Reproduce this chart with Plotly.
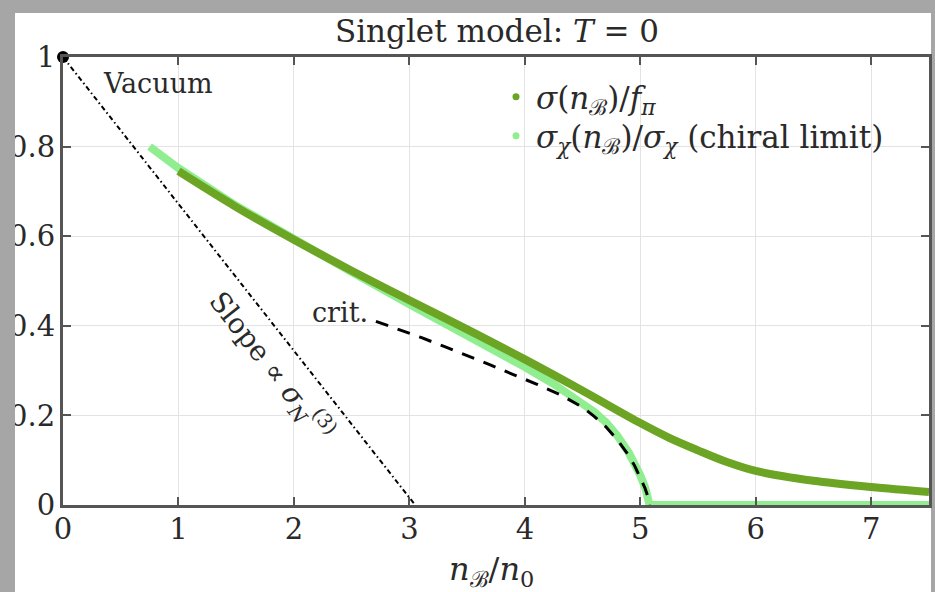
import plotly.graph_objects as go

# Condensate profiles versus baryon density n_B/n_0 (singlet model, T = 0)
density_sigma = [1.0, 1.5, 2.0, 2.5, 3.0, 3.5, 4.0, 4.5, 5.0, 5.25, 5.5, 5.75, 6.0, 6.5, 7.0, 7.5]
sigma_over_fpi = [0.745, 0.665, 0.592, 0.523, 0.457, 0.392, 0.325, 0.255, 0.183, 0.150, 0.122, 0.096, 0.076, 0.054, 0.040, 0.029]

density_chiral = [0.75, 1.0, 1.5, 2.0, 2.5, 3.0, 3.5, 3.75, 4.0, 4.25, 4.5, 4.6, 4.7, 4.8, 4.9,
                  4.95, 5.0, 5.04, 5.07, 5.08, 5.5, 6.0, 6.5, 7.0, 7.5]
sigma_chiral = [0.800, 0.752, 0.668, 0.592, 0.520, 0.448, 0.380, 0.345, 0.308, 0.270, 0.228, 0.208,
                0.185, 0.155, 0.117, 0.093, 0.066, 0.040, 0.016, 0.0, 0.0, 0.0, 0.0, 0.0, 0.0]

density_crit = [2.71, 2.9, 3.1, 3.3, 3.5, 3.7, 3.9, 4.1, 4.3, 4.5, 4.6, 4.7, 4.8, 4.9,
                4.95, 5.0, 5.04, 5.07, 5.08]
sigma_crit = [0.410, 0.393, 0.374, 0.354, 0.334, 0.313, 0.291, 0.270, 0.247, 0.218, 0.198, 0.175,
              0.146, 0.110, 0.088, 0.062, 0.038, 0.015, 0.0]

density_slope = [0.0, 3.05]
sigma_slope = [1.0, 0.0]

vacuum_x = [0.0]
vacuum_y = [1.0]

x_ticks = [0, 1, 2, 3, 4, 5, 6, 7]
y_ticks = [0, 0.2, 0.4, 0.6, 0.8, 1.0]
y_tick_text = ["0", "0.2", "0.4", "0.6", "0.8", "1"]

FONT = "DejaVu Serif"
TEXT = "#2a2a2a"
DARK_GREEN = "#6ca424"
LIGHT_GREEN = "#90ee90"
W, H = 935, 592
L, R, T, B = 63, 6, 57, 87
PW, PH = W - L - R, H - T - B


def px_to_paper_x(px):
    return (px - L) / PW


def px_to_paper_y(py):
    return (H - B - py) / PH


fig = go.Figure()

fig.add_trace(go.Scatter(
    x=density_slope, y=sigma_slope, mode="lines",
    line=dict(color="black", width=2, dash="5px,3px,1.5px,3px"),
    showlegend=False, hoverinfo="skip"))

fig.add_trace(go.Scatter(
    x=density_chiral, y=sigma_chiral, mode="lines",
    line=dict(color=LIGHT_GREEN, width=8),
    showlegend=False, cliponaxis=False))

fig.add_trace(go.Scatter(
    x=density_sigma, y=sigma_over_fpi, mode="lines", line_shape="spline",
    line=dict(color=DARK_GREEN, width=8),
    showlegend=False, cliponaxis=False))

fig.add_trace(go.Scatter(
    x=density_crit, y=sigma_crit, mode="lines",
    line=dict(color="black", width=3, dash="13px,10px"),
    showlegend=False))

fig.add_trace(go.Scatter(
    x=vacuum_x, y=vacuum_y, mode="markers",
    marker=dict(color="black", size=12),
    showlegend=False, cliponaxis=False))

# legend entries drawn as small dots, one legend box per entry
fig.add_trace(go.Scatter(
    x=[None], y=[None], mode="markers", marker=dict(color=DARK_GREEN, size=7),
    name="<i>σ</i>(<i>n</i><sub>ℬ</sub>)/<i>f</i><sub><i>π</i></sub>", legend="legend"))
fig.add_trace(go.Scatter(
    x=[None], y=[None], mode="markers", marker=dict(color=LIGHT_GREEN, size=7),
    name="<i>σ</i><sub><i>χ</i></sub>(<i>n</i><sub>ℬ</sub>)/<i>σ</i><sub><i>χ</i></sub> (chiral limit)",
    legend="legend2"))

axis_common = dict(
    showline=True, linecolor="#555555", linewidth=3, mirror="allticks",
    ticks="inside", ticklen=8, tickwidth=1.5, tickcolor="#555555",
    showgrid=True, gridcolor="#e3e3e3", gridwidth=1, zeroline=False,
    tickfont=dict(family=FONT, size=29, color=TEXT),
)

fig.update_xaxes(range=[0, 7.5], tickvals=x_ticks, ticklabelstandoff=-4, **axis_common)
fig.update_yaxes(range=[0, 1], tickvals=y_ticks, ticktext=y_tick_text, ticklabelstandoff=-1,
                 **axis_common)

annotations = [
    dict(x=0.82, y=0.94, xref="x", yref="y", text="Vacuum", showarrow=False,
         font=dict(family=FONT, size=27, color=TEXT)),
    dict(x=2.40, y=0.43, xref="x", yref="y", text="crit.", showarrow=False,
         font=dict(family=FONT, size=27, color=TEXT)),
    dict(x=1.80, y=0.31, xref="x", yref="y", textangle=52,
         text="Slope ∝ <i>σ</i><sub><i>N</i></sub><sup>(3)</sup>", showarrow=False,
         font=dict(family=FONT, size=28, color=TEXT)),
    dict(x=px_to_paper_x(491), y=px_to_paper_y(571), xref="paper", yref="paper",
         text="<i>n</i><sub>ℬ</sub>/<i>n</i><sub>0</sub>", showarrow=False,
         font=dict(family=FONT, size=32, color=TEXT), yanchor="middle"),
]

# white figure area inside a grey surround; a grey strip also trims the left edge
grey = "#a6a6a6"
shapes = [
    dict(type="rect", xref="paper", yref="paper", layer="below", line=dict(width=0),
         fillcolor="white",
         x0=px_to_paper_x(15), x1=px_to_paper_x(931), y0=px_to_paper_y(H + 5), y1=px_to_paper_y(13)),
    dict(type="rect", xref="paper", yref="paper", layer="above", line=dict(width=0),
         fillcolor=grey,
         x0=px_to_paper_x(-2), x1=px_to_paper_x(15), y0=px_to_paper_y(H + 5), y1=px_to_paper_y(0)),
]

legend_style = dict(xanchor="left", yanchor="middle", bgcolor="rgba(0,0,0,0)",
                    font=dict(family=FONT, size=31, color=TEXT), itemsizing="trace")

fig.update_layout(
    width=W, height=H,
    margin=dict(l=L, r=R, t=T, b=B, autoexpand=False),
    paper_bgcolor=grey, plot_bgcolor="white",
    font=dict(family=FONT, size=29, color=TEXT),
    title=dict(text="Singlet model: <i>T</i> = 0", x=497 / W,
               xanchor="center", y=1 - 31 / H, yanchor="middle", yref="container",
               font=dict(family=FONT, size=31, color=TEXT)),
    legend=dict(x=px_to_paper_x(496), y=px_to_paper_y(97), **legend_style),
    legend2=dict(x=px_to_paper_x(496), y=px_to_paper_y(136), **legend_style),
    annotations=annotations,
    shapes=shapes,
)

fig.write_html("out.html")
